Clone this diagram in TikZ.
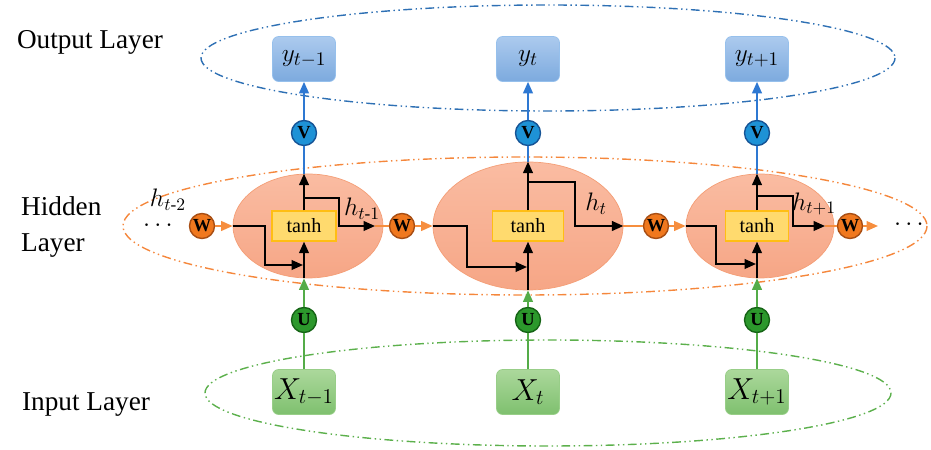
\documentclass[tikz,border=0pt]{standalone}
\usepackage{fontspec}
\setmainfont{Liberation Serif}
\usepackage{amsmath}
\usepackage{tikz}
\usetikzlibrary{arrows.meta, shapes.geometric, positioning}
\definecolor{OutBlue}{RGB}{46,112,180}
\definecolor{LineBlue}{RGB}{46,120,210}
\definecolor{VFill}{RGB}{30,146,214}
\definecolor{VDraw}{RGB}{22,84,150}
\definecolor{HidOrange}{RGB}{245,135,60}
\definecolor{LineOrange}{RGB}{246,142,62}
\definecolor{WFill}{RGB}{240,120,30}
\definecolor{WDraw}{RGB}{168,78,20}
\definecolor{InGreen}{RGB}{92,176,76}
\definecolor{LineGreen}{RGB}{84,172,72}
\definecolor{UFill}{RGB}{44,152,44}
\definecolor{UDraw}{RGB}{22,100,22}
\definecolor{CellTop}{RGB}{250,188,162}
\definecolor{CellBot}{RGB}{246,166,134}
\definecolor{CellDraw}{RGB}{244,158,118}
\definecolor{TanhFill}{RGB}{255,218,110}
\definecolor{TanhDraw}{RGB}{255,190,20}
\definecolor{YTop}{RGB}{172,202,238}
\definecolor{YBot}{RGB}{124,170,222}
\definecolor{YDraw}{RGB}{150,192,236}
\definecolor{XTop}{RGB}{172,216,156}
\definecolor{XBot}{RGB}{126,192,110}
\definecolor{XDraw}{RGB}{152,206,136}

\begin{document}
\begin{tikzpicture}[x=0.2mm, y=-0.2mm,
    tip/.style={-{Triangle[length=6.5pt,width=5.5pt]}},
    blk/.style={line width=1.1pt, black},
    blu/.style={line width=1pt, LineBlue},
    grn/.style={line width=1pt, LineGreen},
    org/.style={line width=1pt, LineOrange},
    layerring/.style={line width=0.8pt, dash pattern=on 5pt off 2pt on 0.8pt off 2pt on 0.8pt off 2pt},
    layertext/.style={font=\fontsize{15.5}{21}\selectfont, align=left},
    ybox/.style={rectangle, rounded corners=3.5pt, draw=YDraw, top color=YTop, bottom color=YBot,
                 minimum width=1.26cm, minimum height=0.9cm, inner sep=0pt, font=\fontsize{15}{15}\selectfont},
    xbox/.style={rectangle, rounded corners=3.5pt, draw=XDraw, top color=XTop, bottom color=XBot,
                 minimum width=1.26cm, minimum height=0.9cm, inner sep=0pt, font=\fontsize{16.5}{16.5}\selectfont},
    cell/.style={ellipse, draw=CellDraw, top color=CellTop, bottom color=CellBot, inner sep=0pt},
    tanhbox/.style={rectangle, draw=TanhDraw, fill=TanhFill, line width=0.8pt, minimum height=0.6cm,
                    inner sep=0pt, font=\fontsize{11.5}{11.5}\selectfont},
    wt/.style={circle, minimum size=0.5cm, inner sep=0pt, line width=0.8pt,
               font=\bfseries\fontsize{10.5}{10.5}\selectfont},
    hlab/.style={font=\fontsize{14}{14}\selectfont, inner sep=0.5pt},
    dotlab/.style={font=\fontsize{14}{14}\selectfont, inner sep=0pt, text height=3pt, text depth=0pt}
  ]
  \useasboundingbox (0,0) rectangle (931,450);

  \draw[layerring, OutBlue] (548,58) ellipse [x radius=347, y radius=53];
  \draw[layerring, HidOrange] (525,226) ellipse [x radius=402, y radius=69];
  \draw[layerring, InGreen] (548,393) ellipse [x radius=343, y radius=53];

  \node[layertext] (outlab) at (90,42) {Output Layer};
  \node[layertext, anchor=west] (hidlab) at (15,227) {Hidden\\Layer};
  \node[layertext] (inlab) at (86,405) {Input Layer};

  \node[cell, minimum width=3.0cm, minimum height=2.08cm] (c1) at (308,226) {};
  \node[cell, minimum width=3.8cm, minimum height=2.56cm] (c2) at (528,226) {};
  \node[cell, minimum width=2.96cm, minimum height=2.08cm] (c3) at (760,226) {};

  \foreach \n/\x/\tw/\s in {1/304/1.28/{t-1}, 2/528/1.42/t, 3/757/1.26/{t+1}} {
    \node[ybox] (y\n) at (\x,59) {$y_{\s}$};
    \node[wt, fill=VFill, draw=VDraw] (v\n) at (\x,133) {V};
    \node[tanhbox, minimum width=\tw cm] (t\n) at (\x,226) {tanh};
    \node[wt, fill=UFill, draw=UDraw] (u\n) at (\x,320) {U};
    \node[xbox] (x\n) at (\x,392) {$X_{\s}$};
    \draw[blu] (t\n |- c\n.north) -- (v\n);
    \draw[blu, tip] (v\n) -- (y\n);
    \draw[grn] (x\n) -- (u\n);
    \draw[grn, tip] (u\n) -- (t\n |- c\n.south);
    \draw[blk, tip] (t\n |- c\n.south) -- (t\n);
    \draw[blk, tip] (t\n) -- (t\n |- c\n.north);
  }

  \draw[blk, tip] (c1.west) -| (265,265) -- (303,265);
  \draw[blk, tip] (304,198) -| (339,226) -- (375,226) coordinate (h1);
  \draw[blk, tip] (c2.west) -| (467,267) -- (527,267);
  \draw[blk, tip] (528,182) -| (575,226) -- (c2.east);
  \draw[blk, tip] (c3.west) -| (716,264) -- (756,264);
  \draw[blk, tip] (757,196) -| (793,226) -- (825,226) coordinate (h3);

  \foreach \n/\x in {1/202, 2/402, 3/656, 4/850}
    \node[wt, fill=WFill, draw=WDraw] (w\n) at (\x,226) {W};
  \coordinate (hend) at (878,226);

  \draw[org, tip] (w1) -- (c1.west);
  \draw[org] (h1) -- (w2);
  \draw[org, tip] (w2) -- (c2.west);
  \draw[org] (c2.east) -- (w3);
  \draw[org, tip] (w3) -- (c3.west);
  \draw[org] (h3) -- (w4);
  \draw[org, tip] (w4) -- (hend);

  \node[hlab] (hm2) at (168,200) {$h_{t\text{-}2}$};
  \node[hlab] (hm1) at (362,209) {$h_{t\text{-}1}$};
  \node[hlab] (h0) at (596,204) {$h_{t}$};
  \node[hlab] (hp1) at (814,204) {$h_{t+1}$};
  \node[dotlab] (ldots) at (160,229) {$\cdots$};
  \node[dotlab] (rdots) at (911,228) {$\cdots$};
\end{tikzpicture}
\end{document}
